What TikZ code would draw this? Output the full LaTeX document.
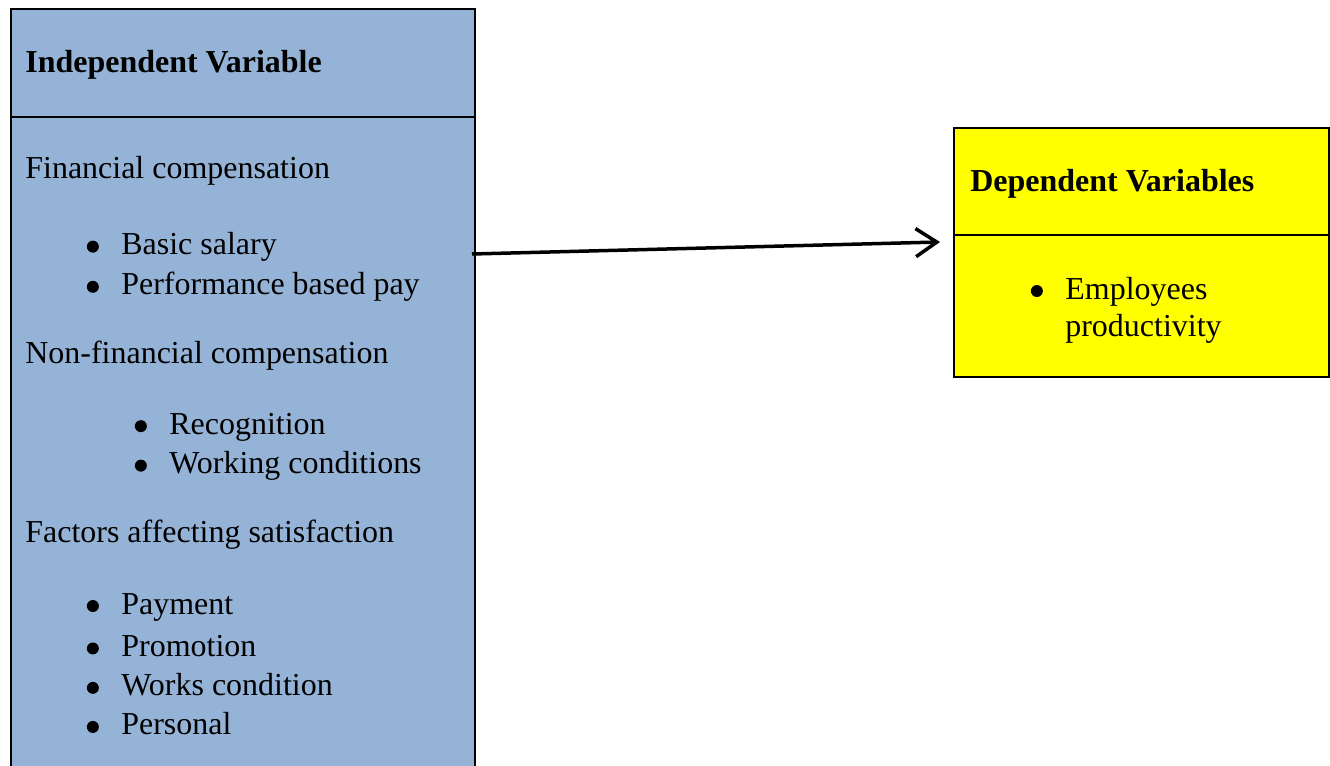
\documentclass[tikz,border=0pt]{standalone}
\usepackage{fontspec}
\setmainfont{Liberation Serif}
\usetikzlibrary{arrows.meta}
\definecolor{indepblue}{HTML}{95B3D7}
\definecolor{depyellow}{HTML}{FFFF00}
\tikzset{
	boxline/.style={line width=0.04cm, draw=black},
	txt/.style={anchor=west, inner sep=0pt, font=\fontsize{18.2}{21.2}\selectfont},
	headtxt/.style={txt, font=\fontsize{18.2}{21.2}\selectfont\bfseries},
}
\newcommand{\dotmark}{\raisebox{0.04cm}{\tikz\fill (0,0) circle (0.12cm);}}
\newcommand{\itm}[1]{\llap{\dotmark\hspace{0.45cm}}#1}

\begin{document}
\begin{tikzpicture}[x=0.02cm, y=-0.02cm]
		%%%%% START %%%%%
		\useasboundingbox (0, 0) rectangle (1330, 766);
		
		% left box (runs off the bottom)
		\fill[indepblue] (11, 9) rectangle (475, 766);
		\draw[boxline] (11, 766) -- (11, 9) -- (475, 9) -- (475, 766);
		\draw[boxline] (11, 117) -- (475, 117);
		
		% right box
		\draw[boxline, fill=depyellow] (954, 128) rectangle (1329, 377);
		\draw[boxline] (954, 235) -- (1329, 235);
		
		\node[headtxt] (indephead) at (25, 65) {Independent Variable};
		
		\node[txt] (fincomp) at (25, 171) {Financial compensation};
		\node[txt] (salary) at (121, 247) {\itm{Basic salary}};
		\node[txt] (perfpay) at (121, 287) {\itm{Performance based pay}};
		
		\node[txt] (nonfin) at (25, 356) {Non-financial compensation};
		\node[txt] (recog) at (169, 427) {\itm{Recognition}};
		\node[txt] (workcond) at (169, 466) {\itm{Working conditions}};
		
		\node[txt] (factors) at (25, 535) {Factors affecting satisfaction};
		\node[txt] (payment) at (121, 607) {\itm{Payment}};
		\node[txt] (promo) at (121, 646) {\itm{Promotion}};
		\node[txt] (worksc) at (121, 685) {\itm{Works condition}};
		\node[txt] (personal) at (121, 724) {\itm{Personal}};
		
		\node[headtxt] (dephead) at (970, 184) {Dependent Variables};
		\node[txt, align=left] (produc) at (1065, 310) {\itm{Employees}\\productivity};
		
		% arrow
		\coordinate (arrtail) at (472, 254);
		\coordinate (arrhead) at (940, 242);
		\draw[line width=0.07cm, -{Straight Barb[length=12pt, width=16pt]}] (arrtail) -- (arrhead);
		
		%%%%% END %%%%%
	\end{tikzpicture}
\end{document}
